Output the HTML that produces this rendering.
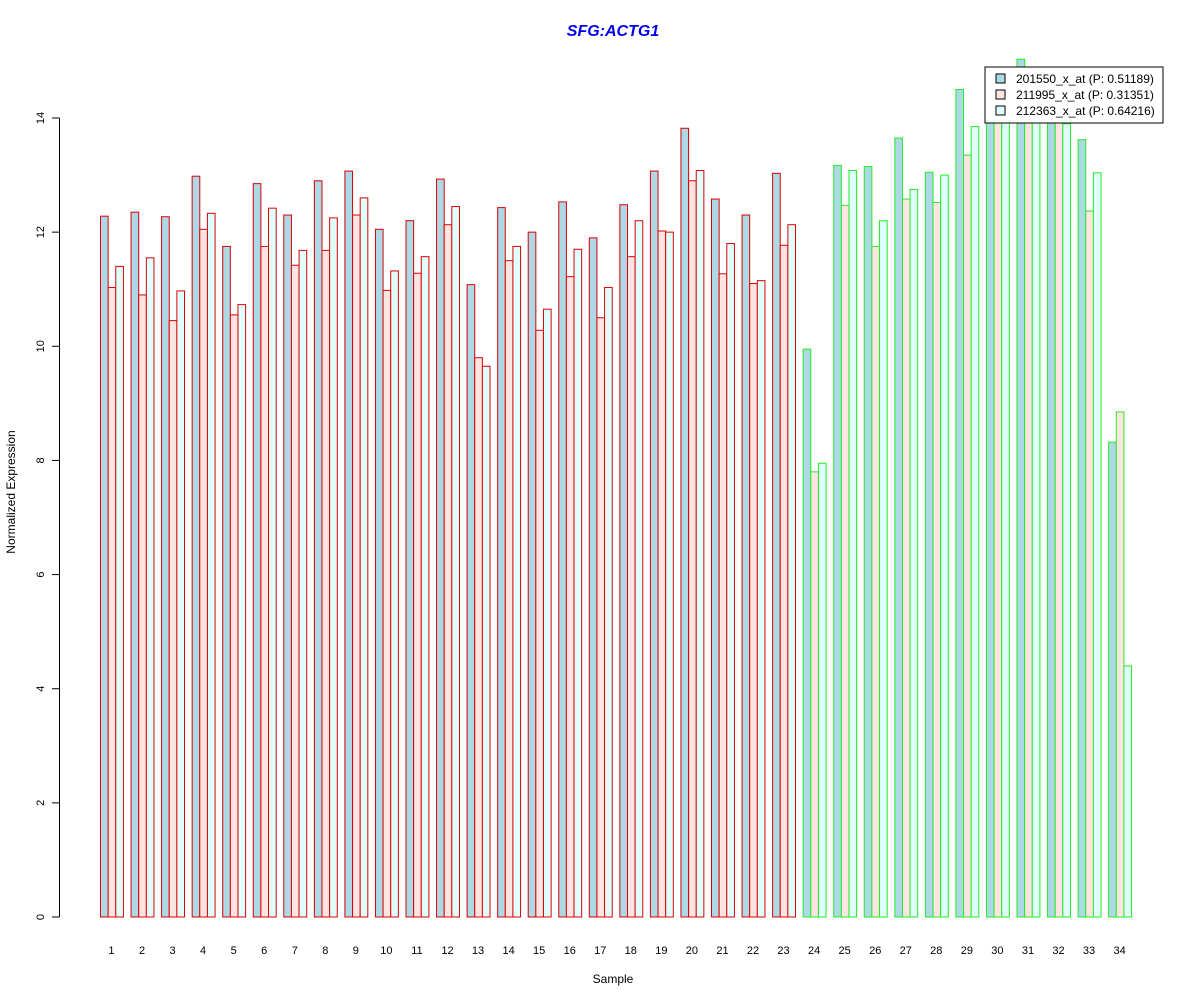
<!DOCTYPE html>
<html><head><meta charset="utf-8"><style>
html,body{margin:0;padding:0;background:#fff;}
svg{display:block;font-family:"Liberation Sans",Arial,sans-serif;}
</style></head><body>
<svg id="chart" width="1200" height="1000" viewBox="0 0 1200 1000" xmlns="http://www.w3.org/2000/svg">
<rect width="1200" height="1000" fill="#fff"/>
<text x="613" y="36" text-anchor="middle" font-size="16" font-weight="bold" font-style="italic" fill="#0000ee">SFG:ACTG1</text>
<text x="613" y="983" text-anchor="middle" font-size="12">Sample</text>
<text x="15" y="492" text-anchor="middle" font-size="12" transform="rotate(-90 15 492)">Normalized Expression</text>
<g id="yaxis"></g>
<g id="bars"></g>
<g id="xlabels"></g>
<g>
<rect x="985" y="67" width="178" height="56" fill="#fff" stroke="#000" stroke-width="1"/>
<g><rect x="996" y="74" width="9" height="9" fill="#add8e6" stroke="#000"/><text x="1016" y="83" font-size="12">201550_x_at (P: 0.51189)</text></g>
<g><rect x="996" y="90" width="9" height="9" fill="#ffe4e1" stroke="#000"/><text x="1016" y="99" font-size="12">211995_x_at (P: 0.31351)</text></g>
<g><rect x="996" y="106" width="9" height="9" fill="#e0ffff" stroke="#000"/><text x="1016" y="115" font-size="12">212363_x_at (P: 0.64216)</text></g>
</g>
</svg>
<script>
const categories = ["1","2","3","4","5","6","7","8","9","10","11","12","13","14","15","16","17","18","19","20","21","22","23","24","25","26","27","28","29","30","31","32","33","34"];
const series1 = [12.28,12.35,12.27,12.98,11.75,12.85,12.3,12.9,13.07,12.05,12.2,12.93,11.08,12.43,12.0,12.53,11.9,12.48,13.07,13.82,12.58,12.3,13.03,9.95,13.17,13.15,13.65,13.05,14.5,14.53,15.03,14.3,13.62,8.32];
const series2 = [11.03,10.9,10.45,12.05,10.55,11.75,11.42,11.68,12.3,10.98,11.28,12.13,9.8,11.5,10.28,11.22,10.5,11.57,12.02,12.9,11.27,11.1,11.77,7.8,12.47,11.75,12.58,12.52,13.35,14.2,14.1,14.15,12.37,8.85];
const series3 = [11.4,11.55,10.97,12.33,10.73,12.42,11.68,12.25,12.6,11.32,11.57,12.45,9.65,11.75,10.65,11.7,11.03,12.2,12.0,13.08,11.8,11.15,12.13,7.95,13.08,12.2,12.75,13.0,13.85,14.3,14.25,13.9,13.04,4.4];
const groupClass = [0,0,0,0,0,0,0,0,0,0,0,0,0,0,0,0,0,0,0,0,0,0,0,1,1,1,1,1,1,1,1,1,1,1];
const yTicks = [0,2,4,6,8,10,12,14];
const NS="http://www.w3.org/2000/svg";
const y0=917, pxPerUnit=(917-118)/14;
function yScale(v){return y0 - v*pxPerUnit;}
const barW=7.64, groupStart=100, groupStep=30.55;
function xScale(i,s){return groupStart + i*groupStep + s*barW;}
const fills=["#add8e6","#ffe4e1","#e0ffff"];
const borders=["#dd0000","#22ee22"];
const bars=document.getElementById('bars');
const all=[series1,series2,series3];
categories.forEach((c,i)=>{
  all.forEach((ser,s)=>{
    const r=document.createElementNS(NS,'rect');
    
    
    const yt=yScale(ser[i]);
    r.setAttribute('x',xScale(i,s)+0.5);
    r.setAttribute('y',yt);
    r.setAttribute('width',barW);
    r.setAttribute('height',y0-yt);
    r.setAttribute('fill',fills[s]);
    r.setAttribute('stroke',borders[groupClass[i]]);
    r.setAttribute('stroke-width','1');
    bars.appendChild(r);
  });
  const t=document.createElementNS(NS,'text');
  
  
  t.setAttribute('x',xScale(i,1.5));
  t.setAttribute('y',954);
  t.setAttribute('text-anchor','middle');
  t.setAttribute('font-size','11');
  t.textContent=c;
  document.getElementById('xlabels').appendChild(t);
});
const ya=document.getElementById('yaxis');
const ln=document.createElementNS(NS,'line');


ln.setAttribute('x1',59.5);ln.setAttribute('x2',59.5);
ln.setAttribute('y1',yScale(yTicks[0]));ln.setAttribute('y2',yScale(yTicks[yTicks.length-1]));
ln.setAttribute('stroke','#000');
ya.appendChild(ln);
yTicks.forEach(v=>{
  const y=yScale(v);
  const tk=document.createElementNS(NS,'line');
  
  
  tk.setAttribute('x1',52);tk.setAttribute('x2',59.5);
  tk.setAttribute('y1',y);tk.setAttribute('y2',y);
  tk.setAttribute('stroke','#000');
  ya.appendChild(tk);
  const t=document.createElementNS(NS,'text');
  
  
  t.setAttribute('x',44);t.setAttribute('y',y);
  t.setAttribute('text-anchor','middle');
  t.setAttribute('font-size','11');
  t.setAttribute('transform','rotate(-90 44 '+y+')');
  t.textContent=v;
  ya.appendChild(t);
});
</script>
</body></html>
